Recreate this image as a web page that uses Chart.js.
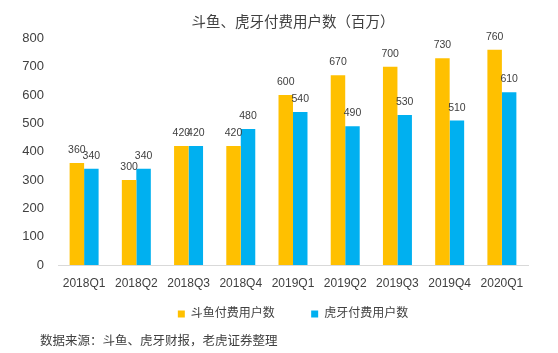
<!DOCTYPE html>
<html>
<head>
<meta charset="utf-8">
<script src="https://cdn.jsdelivr.net/npm/chart.js@4"></script>
<style>
  body { margin: 0; background: #fff; }
  #wrap { position: relative; width: 558px; height: 353px; }
  #note { position: absolute; left: 40px; top: 330px; font: 12.5px "Noto Sans CJK SC", sans-serif; color: #404040; }
</style>
</head>
<body>
<div id="wrap">
  <canvas id="chart" width="558" height="353"></canvas>
  <div id="note">数据来源：斗鱼、虎牙财报，老虎证券整理</div>
</div>
<script>
const quarters = ['2018Q1', '2018Q2', '2018Q3', '2018Q4', '2019Q1', '2019Q2', '2019Q3', '2019Q4', '2020Q1'];
const douyuPaid = [360, 300, 420, 420, 600, 670, 700, 730, 760];
const huyaPaid = [340, 340, 420, 480, 540, 490, 530, 510, 610];

const fontFamily = '"Liberation Sans", "Noto Sans CJK SC", sans-serif';

// value labels above each bar
const barLabels = {
    id: 'barLabels',
    afterDatasetsDraw(chart) {
        const ctx = chart.ctx;
        ctx.save();
        ctx.font = '10.5px ' + fontFamily;
        ctx.fillStyle = '#404040';
        ctx.textAlign = 'center';
        ctx.textBaseline = 'bottom';
        chart.data.datasets.forEach((ds, i) => {
            chart.getDatasetMeta(i).data.forEach((bar, j) => {
                ctx.fillText(ds.data[j], bar.x, bar.y - 7.5);
            });
        });
        ctx.restore();
    }
};

const ctx = document.getElementById('chart').getContext('2d');
const chart = new Chart(ctx, {
    type: 'bar',
    data: {
        labels: quarters,
        datasets: [
            { label: '斗鱼付费用户数', data: douyuPaid, backgroundColor: '#FFC000' },
            { label: '虎牙付费用户数', data: huyaPaid, backgroundColor: '#00B0F0' }
        ]
    },
    options: {
        responsive: false,
        animation: false,
        layout: { padding: { left: 13, right: 30, top: 6, bottom: 23 } },
        datasets: { bar: { categoryPercentage: 0.555, barPercentage: 1.0 } },
        scales: {
            x: {
                grid: { display: false, drawTicks: false },
                border: { color: '#d9d9d9' },
                ticks: { color: '#404040', font: { size: 12, family: fontFamily }, maxRotation: 0, padding: 11 },
                afterFit(scale) { scale.height = 30; }
            },
            y: {
                min: 0, max: 800,
                grid: { display: false, drawTicks: false },
                border: { display: false },
                ticks: { stepSize: 100, color: '#404040', font: { size: 13, family: fontFamily }, padding: 14 },
                afterFit(scale) { scale.width = 45; }
            }
        },
        plugins: {
            title: {
                display: true,
                fullSize: false,
                text: '斗鱼、虎牙付费用户数（百万）',
                color: '#404040',
                font: { size: 14.5, weight: 'normal', family: fontFamily },
                padding: { top: 8, bottom: 7 }
            },
            legend: {
                position: 'bottom',
                fullSize: false,
                labels: {
                    color: '#404040', boxWidth: 7, boxHeight: 7, padding: 13,
                    font: { size: 12, family: fontFamily },
                    generateLabels(chart) {
                        const items = Chart.defaults.plugins.legend.labels.generateLabels(chart);
                        items[0].text = items[0].text + '       ';
                        return items;
                    }
                }
            },
            tooltip: { enabled: false }
        }
    },
    plugins: [barLabels]
});
</script>
</body>
</html>
